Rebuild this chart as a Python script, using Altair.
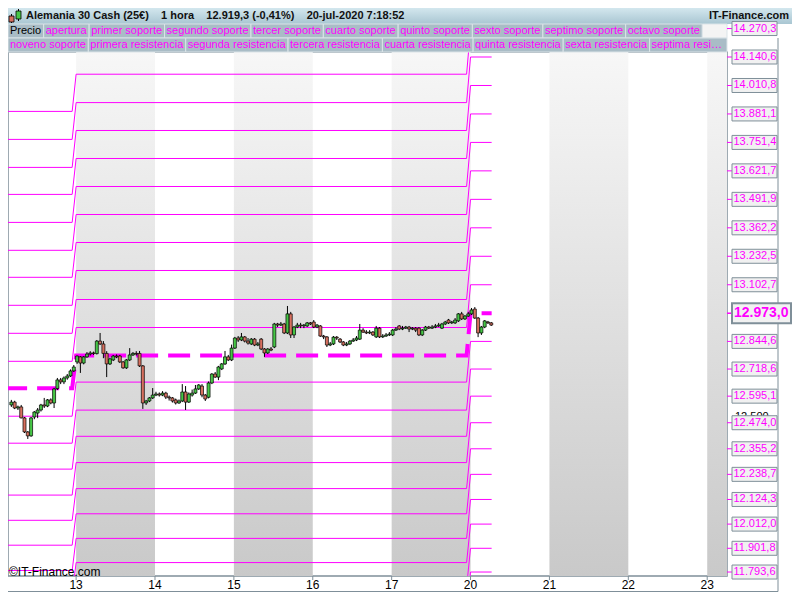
import altair as alt
import pandas as pd

FONT = "Liberation Sans"
MAGENTA = "#ff00ff"
FRAME = "#7f8f99"
GREEN = "#46c646"
RED = "#d7705f"

# ---------------- data ----------------
day_labels = ["13", "14", "15", "16", "17", "20", "21", "22", "23"]
shaded_days = ["13", "15", "17", "21", "23"]

title_parts = ["Alemania 30 Cash (25€)", "1 hora", "12.919,3 (-0,41%)", "20-jul-2020 7:18:52"]
site_name = "IT-Finance.com"
copyright_text = "©IT-Finance.com"

legend_row1 = ["Precio", "apertura", "primer soporte", "segundo soporte", "tercer soporte",
               "cuarto soporte", "quinto soporte", "sexto soporte", "septimo soporte", "octavo soporte"]
legend_row2 = ["noveno soporte", "primera resistencia", "segunda resistencia", "tercera resistencia",
               "cuarta resistencia", "quinta resistencia", "sexta resistencia", "septima resistencia",
               "octava resistencia", "novena resistencia"]

level_names = ["apertura"] + ["R%d" % i for i in range(1, 11)] + ["S%d" % i for i in range(1, 11)]
prev_week = [12631.3, 12753.9, 12881.5, 13009.1, 13136.7, 13259.7, 13386.9, 13514.5, 13637.5, 13765.1, 13892.7,
             12503.7, 12380.7, 12262.6, 12144.2, 12029.3, 11915.9, 11800.6, 11688.0, 11578.0, 11470.0]
this_week = [12780.3, 12907.9, 13035.5, 13167.7, 13295.3, 13422.9, 13550.5, 13678.1, 13805.7, 13932.8, 14062.2,
             12659.1, 12531.5, 12412.1, 12292.3, 12173.8, 12059.0, 11946.9, 11836.6, 11727.0, 11619.0]
next_week = [12973.0, 13102.7, 13232.5, 13362.2, 13491.9, 13621.7, 13751.4, 13881.1, 14010.8, 14140.6, 14270.3,
             12844.6, 12718.6, 12595.1, 12474.0, 12355.2, 12238.7, 12124.3, 12012.0, 11901.8, 11793.6]
extra_axis_label = 12500.0

# hourly candles (open, high, low, close)
day10 = [(12555, 12578, 12546, 12568), (12568, 12574, 12536, 12541), (12541, 12552, 12532, 12546),
         (12546, 12555, 12494, 12496), (12496, 12500, 12427, 12432), (12432, 12436, 12400, 12414),
         (12414, 12500, 12410, 12496), (12500, 12527, 12490, 12523), (12518, 12541, 12495, 12532),
         (12532, 12560, 12525, 12555), (12555, 12587, 12541, 12550), (12550, 12582, 12545, 12578),
         (12578, 12585, 12558, 12564), (12564, 12633, 12541, 12628), (12630, 12678, 12623, 12669),
         (12669, 12678, 12650, 12660), (12660, 12685, 12650, 12678), (12678, 12696, 12670, 12687),
         (12687, 12717, 12682, 12710), (12710, 12737, 12705, 12728)]
day13 = [(12751, 12780, 12742, 12778), (12774, 12778, 12701, 12746), (12746, 12778, 12740, 12774),
         (12774, 12796, 12770, 12787), (12787, 12800, 12780, 12792), (12792, 12798, 12783, 12789),
         (12789, 12851, 12785, 12846), (12846, 12883, 12828, 12833), (12833, 12846, 12768, 12790),
         (12790, 12800, 12682, 12742), (12742, 12770, 12737, 12765), (12760, 12783, 12755, 12778),
         (12778, 12785, 12768, 12774), (12778, 12783, 12746, 12751), (12751, 12755, 12720, 12724),
         (12724, 12764, 12719, 12760), (12760, 12814, 12755, 12783), (12783, 12796, 12778, 12790),
         (12790, 12800, 12780, 12787), (12790, 12801, 12728, 12733), (12733, 12737, 12537, 12564),
         (12564, 12578, 12555, 12573), (12573, 12591, 12568, 12587), (12587, 12632, 12582, 12600)]
day14 = [(12600, 12615, 12595, 12605), (12605, 12612, 12593, 12600), (12600, 12618, 12595, 12609),
         (12609, 12615, 12582, 12591), (12591, 12598, 12575, 12587), (12587, 12591, 12566, 12573),
         (12578, 12584, 12557, 12564), (12564, 12580, 12560, 12573), (12573, 12650, 12568, 12614),
         (12614, 12641, 12532, 12568), (12568, 12612, 12564, 12605), (12600, 12625, 12593, 12609),
         (12609, 12646, 12605, 12628), (12628, 12650, 12623, 12646), (12641, 12650, 12590, 12600),
         (12600, 12605, 12573, 12582), (12590, 12662, 12585, 12655), (12655, 12700, 12650, 12696),
         (12696, 12705, 12678, 12682), (12682, 12733, 12668, 12728), (12719, 12746, 12714, 12742),
         (12742, 12801, 12737, 12774), (12774, 12783, 12755, 12760), (12760, 12830, 12755, 12814)]
day15 = [(12814, 12865, 12810, 12860), (12860, 12869, 12842, 12851), (12851, 12883, 12846, 12865),
         (12865, 12869, 12840, 12846), (12846, 12860, 12830, 12837), (12833, 12860, 12828, 12855),
         (12855, 12860, 12823, 12828), (12828, 12842, 12823, 12833), (12855, 12860, 12805, 12810),
         (12810, 12814, 12774, 12792), (12792, 12814, 12787, 12810), (12810, 12819, 12800, 12805),
         (12819, 12929, 12814, 12924), (12924, 12929, 12910, 12919), (12919, 12933, 12915, 12924),
         (12924, 12929, 12878, 12883), (12883, 13006, 12878, 12970), (12970, 12979, 12860, 12874),
         (12874, 12915, 12860, 12910), (12910, 12929, 12905, 12919), (12919, 12929, 12905, 12915),
         (12915, 12924, 12905, 12919), (12915, 12933, 12910, 12929), (12929, 12933, 12919, 12924)]
day16 = [(12933, 12942, 12905, 12910), (12910, 12924, 12905, 12919), (12915, 12919, 12865, 12869),
         (12869, 12874, 12855, 12865), (12865, 12869, 12819, 12828), (12828, 12842, 12823, 12833),
         (12833, 12869, 12828, 12864), (12864, 12869, 12851, 12860), (12855, 12860, 12837, 12842),
         (12842, 12846, 12823, 12828), (12828, 12842, 12823, 12833), (12833, 12851, 12828, 12846),
         (12846, 12860, 12842, 12851), (12851, 12869, 12846, 12860), (12855, 12924, 12851, 12896),
         (12896, 12905, 12883, 12887), (12887, 12896, 12878, 12883), (12883, 12896, 12878, 12887),
         (12887, 12892, 12869, 12874), (12865, 12915, 12860, 12905), (12905, 12910, 12860, 12865),
         (12865, 12878, 12860, 12869), (12869, 12883, 12865, 12874), (12874, 12887, 12869, 12878)]
day17 = [(12874, 12901, 12869, 12896), (12896, 12910, 12892, 12901), (12915, 12919, 12896, 12901),
         (12901, 12915, 12896, 12905), (12905, 12915, 12901, 12910), (12910, 12915, 12887, 12901),
         (12901, 12910, 12896, 12905), (12905, 12910, 12887, 12896), (12905, 12910, 12869, 12874),
         (12874, 12901, 12869, 12896), (12896, 12915, 12892, 12910), (12910, 12915, 12901, 12905),
         (12905, 12919, 12901, 12910), (12910, 12924, 12905, 12915), (12915, 12929, 12910, 12919),
         (12905, 12929, 12901, 12924), (12924, 12938, 12919, 12933), (12942, 12947, 12924, 12929),
         (12929, 12938, 12924, 12933), (12929, 12951, 12924, 12942), (12938, 12974, 12933, 12970),
         (12970, 12979, 12942, 12947), (12947, 12965, 12942, 12960), (12960, 12979, 12956, 12970)]
day20 = [(12970, 12997, 12965, 12988), (12992, 13001, 12947, 12951), (12951, 12956, 12864, 12883),
         (12883, 12915, 12874, 12910), (12910, 12942, 12905, 12938), (12933, 12938, 12924, 12929),
         (12929, 12933, 12915, 12919)]

# (trading-day index relative to Mon 13, first hour, candles)
sessions = [(-1, 4, day10), (0, 0, day13), (1, 0, day14), (2, 0, day15), (3, 0, day16), (4, 0, day17), (5, 0, day20)]
week_starts = [0.0, 5.0]
week_gap = 0.05

# ---------------- layout ----------------
W, H = 719, 524          # plot area
PAD_T, PAD_R, PAD_B = 44, 65, 16
TOTAL_W = W + PAD_R
xs = alt.Scale(domain=[-0.8, 8.1875], nice=False, zero=False)
ys = alt.Scale(domain=[11775.5, 14163.4], nice=False, zero=False)

# ---------------- tables ----------------
rows = []
for d, h0, cs in sessions:
    for i, (o, hi, lo, c) in enumerate(cs):
        rows.append(dict(t=d + (h0 + i + 0.3) / 24.0, o=o, h=hi, l=lo, c=c, dir="up" if c >= o else "down"))
df_c = pd.DataFrame(rows)
last_t = df_c["t"].max() + 0.005

seg = []
ap_pts = []
for j, name in enumerate(level_names):
    pts = [(-0.9, prev_week[j]), (week_starts[0] - week_gap, prev_week[j]), (week_starts[0], this_week[j]),
           (week_starts[1] - week_gap, this_week[j]), (week_starts[1], next_week[j]), (last_t, next_week[j])]
    if name == "apertura":
        for i, (t, p) in enumerate(pts):
            ap_pts.append(dict(i=i, t=t, p=p))
    else:
        for k in range(len(pts) - 1):
            seg.append(dict(name=name, t0=pts[k][0], t1=pts[k + 1][0], p0=pts[k][1], p1=pts[k + 1][1]))
df_seg = pd.DataFrame(seg)
df_ap = pd.DataFrame(ap_pts)

df_b = pd.DataFrame([dict(t0=day_labels.index(d), t1=day_labels.index(d) + 1) for d in shaded_days])
df_days = pd.DataFrame(dict(t=list(range(len(day_labels))), label=day_labels))


def fmt(v):
    s = "{:,.1f}".format(v)
    return s.replace(",", "_").replace(".", ",").replace("_", ".")


df_lab = pd.DataFrame(dict(p=next_week[1:], label=[fmt(v) for v in next_week[1:]]))
df_open = pd.DataFrame(dict(p=[next_week[0]], label=[fmt(next_week[0])]))
df_extra = pd.DataFrame(dict(p=[extra_axis_label], label=["{:,.0f}".format(extra_axis_label).replace(",", ".")]))

ARIAL = {' ': 278, 'a': 556, 'b': 556, 'c': 500, 'd': 556, 'e': 556, 'f': 278, 'g': 556, 'h': 556, 'i': 222,
         'j': 222, 'k': 500, 'l': 222, 'm': 833, 'n': 556, 'o': 556, 'p': 556, 'q': 556, 'r': 333, 's': 500,
         't': 278, 'u': 556, 'v': 500, 'w': 722, 'x': 500, 'y': 500, 'z': 500, 'P': 667}


def text_w(s, size):
    return sum(ARIAL.get(ch, 556) for ch in s) * size / 1000.0


LFS = 11
lg = []
for row_i, items in enumerate([legend_row1, legend_row2]):
    x = 0.0
    y0 = -28 + 14 * row_i
    for s in items:
        if x >= W:
            break
        w = text_w(s, LFS) + 4.5
        lg.append(dict(label=s, x=x, x2=min(x + w, W), tx=x + 2, y=y0, y2=y0 + 14, ty=y0 + 7,
                       fill="#a9bcc6", tc="black" if s == "Precio" else MAGENTA,
                       over=(x + w > W), lim=W - x - 2))
        x += w
    if row_i == 0 and x < W:
        lg.append(dict(label="", x=x, x2=W, tx=x + 2, y=y0, y2=y0 + 14, ty=y0 + 7, fill="#f4f4f4",
                       tc="black", over=False, lim=0))
df_lg = pd.DataFrame(lg)
df_lg_ok = df_lg[~df_lg["over"]]
df_lg_over = df_lg[df_lg["over"]]
over_limit = float(df_lg_over["lim"].iloc[0]) if len(df_lg_over) else 100.0

one = pd.DataFrame({"d": [0]})

band_grad = alt.LinearGradient(gradient="linear", x1=0, x2=0, y1=0, y2=1,
                               stops=[alt.GradientStop(color="#f7f7f7", offset=0),
                                      alt.GradientStop(color="#c9c9c9", offset=1)])
title_grad = alt.LinearGradient(gradient="linear", x1=0, x2=0, y1=0, y2=1,
                                stops=[alt.GradientStop(color="#d3e7ee", offset=0),
                                       alt.GradientStop(color="#a9c6d2", offset=1)])

# ---------------- layers ----------------
bands = alt.Chart(df_b).mark_rect(clip=True, color=band_grad).encode(
    x=alt.X("t0:Q", scale=xs, axis=None), x2="t1:Q", y=alt.value(0), y2=alt.value(H))

thin = alt.Chart(df_seg).mark_rule(clip=True, color=MAGENTA, strokeWidth=1).encode(
    x=alt.X("t0:Q", scale=xs, axis=None), x2="t1:Q",
    y=alt.Y("p0:Q", scale=ys, axis=None), y2="p1:Q")

ap = alt.Chart(df_ap).mark_line(clip=True, color=MAGENTA, strokeWidth=4, strokeDash=[22, 10]).encode(
    x=alt.X("t:Q", scale=xs, axis=None), y=alt.Y("p:Q", scale=ys, axis=None), order="i:Q")

wicks = alt.Chart(df_c).mark_rule(clip=True, color="black", strokeWidth=1).encode(
    x=alt.X("t:Q", scale=xs, axis=None), y=alt.Y("l:Q", scale=ys, axis=None), y2="h:Q")

bodies = alt.Chart(df_c).mark_bar(clip=True, size=3, stroke="black", strokeWidth=0.7).encode(
    x=alt.X("t:Q", scale=xs, axis=None), y=alt.Y("o:Q", scale=ys, axis=None), y2="c:Q",
    color=alt.Color("dir:N", scale=alt.Scale(domain=["up", "down"], range=[GREEN, RED]), legend=None))

copy_txt = alt.Chart(one).mark_text(align="left", baseline="middle", fontSize=12, font=FONT,
                                    color="black", text=copyright_text).encode(
    x=alt.value(1), y=alt.value(H - 4))

# x axis drawn by hand (day labels)
x_ticks = alt.Chart(df_days).mark_rule(color=FRAME, strokeWidth=1).encode(
    x=alt.X("t:Q", scale=xs, axis=None), y=alt.value(H), y2=alt.value(H + 4))
x_labels = alt.Chart(df_days).mark_text(baseline="middle", align="center", fontSize=12, font=FONT,
                                        color="black").encode(
    x=alt.X("t:Q", scale=xs, axis=None), y=alt.value(H + 9), text="label:N")

# header
title_bar = alt.Chart(one).mark_rect(color=title_grad).encode(
    x=alt.value(0), x2=alt.value(TOTAL_W), y=alt.value(-PAD_T), y2=alt.value(-28))
icon_r_w = alt.Chart(one).mark_rule(color="black").encode(x=alt.value(3.5), y=alt.value(-38), y2=alt.value(-29))
icon_r = alt.Chart(one).mark_rect(color=RED, stroke="black", strokeWidth=0.8).encode(
    x=alt.value(1), x2=alt.value(6), y=alt.value(-36), y2=alt.value(-30))
icon_g_w = alt.Chart(one).mark_rule(color="black").encode(x=alt.value(10.5), y=alt.value(-43), y2=alt.value(-31))
icon_g = alt.Chart(one).mark_rect(color=GREEN, stroke="black", strokeWidth=0.8).encode(
    x=alt.value(8), x2=alt.value(13), y=alt.value(-41), y2=alt.value(-33))
title_txt = alt.Chart(one).mark_text(align="left", baseline="middle", fontSize=11, font=FONT,
                                     fontWeight="bold", color="#111111",
                                     text=("\u00a0" * 4).join(title_parts)).encode(
    x=alt.value(18), y=alt.value(-36))
site_txt = alt.Chart(one).mark_text(align="right", baseline="middle", fontSize=11, font=FONT,
                                    fontWeight="bold", color="#111111", text=site_name).encode(
    x=alt.value(TOTAL_W - 3), y=alt.value(-36))

lg_rect = alt.Chart(df_lg).mark_rect(stroke="#dbe4e8", strokeWidth=1).encode(
    x=alt.X("x:Q", scale=None, axis=None), x2="x2:Q",
    y=alt.Y("y:Q", scale=None, axis=None), y2="y2:Q",
    fill=alt.Fill("fill:N", scale=None))
lg_txt = alt.Chart(df_lg_ok).mark_text(align="left", baseline="middle", fontSize=LFS, font=FONT).encode(
    x=alt.X("tx:Q", scale=None, axis=None), y=alt.Y("ty:Q", scale=None, axis=None),
    text="label:N", color=alt.Color("tc:N", scale=None))
lg_txt2 = alt.Chart(df_lg_over).mark_text(align="left", baseline="middle", fontSize=LFS, font=FONT,
                                          limit=over_limit, ellipsis="").encode(
    x=alt.X("tx:Q", scale=None, axis=None), y=alt.Y("ty:Q", scale=None, axis=None),
    text="label:N", color=alt.Color("tc:N", scale=None))

# right price panel
frame_v = alt.Chart(one).mark_rule(color=FRAME, strokeWidth=1).encode(
    x=alt.value(770), y=alt.value(-14), y2=alt.value(H + PAD_B - 0.5))
frame_h = alt.Chart(one).mark_rule(color=FRAME, strokeWidth=1).encode(
    x=alt.value(0), x2=alt.value(770), y=alt.value(H + PAD_B - 0.5))
extra_txt = alt.Chart(df_extra).mark_text(align="left", baseline="middle", fontSize=11, font=FONT,
                                          color="black").encode(
    x=alt.value(727), y=alt.Y("p:Q", scale=ys, axis=None), text="label:N")
ticks = alt.Chart(df_lab).mark_rule(color=MAGENTA, strokeWidth=1).encode(
    x=alt.value(719), x2=alt.value(724), y=alt.Y("p:Q", scale=ys, axis=None))
boxes = alt.Chart(df_lab).mark_rect(fill="#f1f1f1", stroke=FRAME, strokeWidth=1, yOffset=-7, y2Offset=7).encode(
    x=alt.value(724), x2=alt.value(769), y=alt.Y("p:Q", scale=ys, axis=None), y2="p:Q")
labels = alt.Chart(df_lab).mark_text(align="left", baseline="middle", fontSize=11, font=FONT,
                                     color=MAGENTA).encode(
    x=alt.value(725.5), y=alt.Y("p:Q", scale=ys, axis=None), text="label:N")
open_tick = alt.Chart(df_open).mark_rule(color=MAGENTA, strokeWidth=1.5).encode(
    x=alt.value(719), x2=alt.value(724), y=alt.Y("p:Q", scale=ys, axis=None))
open_box = alt.Chart(df_open).mark_rect(fill="#f1f1f1", stroke=FRAME, strokeWidth=2, yOffset=-10,
                                        y2Offset=10).encode(
    x=alt.value(724), x2=alt.value(TOTAL_W - 1), y=alt.Y("p:Q", scale=ys, axis=None), y2="p:Q")
open_lab = alt.Chart(df_open).mark_text(align="left", baseline="middle", fontSize=14, font=FONT,
                                        fontWeight="bold", color=MAGENTA).encode(
    x=alt.value(726), y=alt.Y("p:Q", scale=ys, axis=None), text="label:N")

chart = alt.layer(
    bands, thin, ap, wicks, bodies, copy_txt, x_ticks, x_labels,
    title_bar, icon_r_w, icon_r, icon_g_w, icon_g, title_txt, site_txt,
    lg_rect, lg_txt, lg_txt2,
    frame_v, frame_h, extra_txt, ticks, boxes, labels, open_tick, open_box, open_lab
).properties(
    width=W, height=H,
    padding={"left": 0, "top": PAD_T, "right": PAD_R, "bottom": PAD_B},
    autosize=alt.AutoSizeParams(type="none"),
    background="white",
).configure_view(stroke=FRAME, strokeWidth=1.5)

chart.save("out.html", embed_options={"renderer": "svg", "actions": False})
